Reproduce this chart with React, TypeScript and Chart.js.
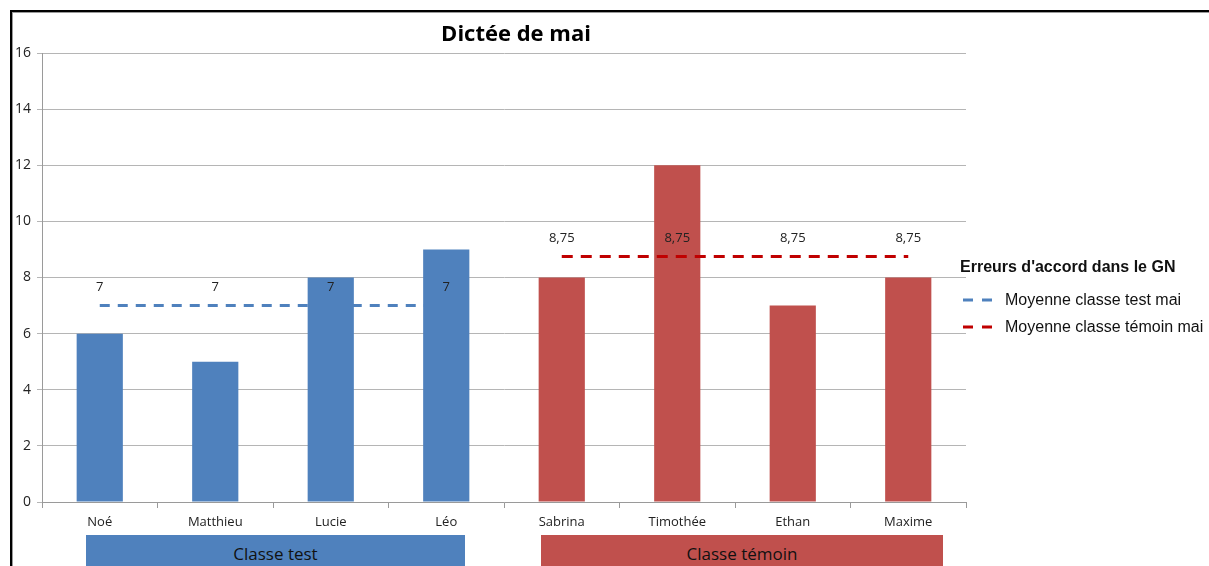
import React, { useEffect, useRef } from "react";
import { Chart, registerables } from "chart.js";

Chart.register(...registerables);

const students = ["Noé", "Matthieu", "Lucie", "Léo", "Sabrina", "Timothée", "Ethan", "Maxime"];
const errors = [6, 5, 8, 9, 8, 12, 7, 8];
const barColors = ["#4F81BD", "#4F81BD", "#4F81BD", "#4F81BD", "#C0504D", "#C0504D", "#C0504D", "#C0504D"];
const meanTest = [7, 7, 7, 7, null, null, null, null];
const meanTemoin = [null, null, null, null, 8.75, 8.75, 8.75, 8.75];
const legendTitle = "Erreurs d'accord dans le GN";
const legendLabels = ["Moyenne classe test mai", "Moyenne classe témoin mai"];
const groupLabels = ["Classe test", "Classe témoin"];
const chartTitle = "Dictée de mai";

const valueLabels = {
  id: "valueLabels",
  afterDatasetsDraw(chart: any) {
    const ctx = chart.ctx;
    ctx.save();
    ctx.font = "13px 'Open Sans'";
    ctx.fillStyle = "#222";
    ctx.textAlign = "center";
    ctx.textBaseline = "middle";
    chart.data.datasets.forEach((ds: any, i: number) => {
      if (ds.type !== "line") return;
      const meta = chart.getDatasetMeta(i);
      meta.data.forEach((pt: any, j: number) => {
        const v = ds.data[j];
        if (v === null || v === undefined) return;
        ctx.fillText(String(v).replace(".", ","), pt.x, pt.y - 18);
      });
    });
    ctx.restore();
  },
};

export default function App() {
  const ref = useRef<HTMLCanvasElement>(null);
  useEffect(() => {
    if (!ref.current) return;
    const chart = new Chart(ref.current, {
      type: "bar",
      data: {
        labels: students,
        datasets: [
          {
            type: "line",
            label: legendLabels[0],
            data: meanTest,
            borderColor: "#4F81BD",
            borderWidth: 3,
            borderDash: [10, 8],
            pointRadius: 0,
            fill: false,
            order: 3,
          } as any,
          {
            type: "bar",
            label: "Erreurs",
            data: errors,
            backgroundColor: barColors,
            barPercentage: 0.4,
            categoryPercentage: 1,
            order: 2,
          },
          {
            type: "line",
            label: legendLabels[1],
            data: meanTemoin,
            borderColor: "#C00000",
            borderWidth: 3,
            borderDash: [11, 8],
            pointRadius: 0,
            fill: false,
            order: 1,
          } as any,
        ],
      },
      options: {
        responsive: false,
        animation: false,
        devicePixelRatio: 1,
        layout: { padding: { top: 53, right: 243, left: 0, bottom: 0 } },
        plugins: {
          legend: { display: false },
          title: { display: false },
          tooltip: { enabled: false },
        },
        scales: {
          x: {
            offset: true,
            grid: {
              display: true,
              drawOnChartArea: false,
              drawTicks: true,
              tickLength: 6,
              color: "#9a9a9a",
              offset: true,
            },
            border: { display: true, color: "#9a9a9a", width: 1 },
            ticks: {
              font: { family: "'Open Sans'", size: 13 },
              color: "#222",
              padding: 6,
              maxRotation: 0,
            },
            afterFit(scale: any) {
              scale.height = 64;
            },
          },
          y: {
            min: 0,
            max: 16,
            ticks: {
              stepSize: 2,
              font: { family: "'Open Sans'", size: 14 },
              color: "#222",
              padding: 6,
            },
            grid: { color: "#b5b5b5", tickLength: 5 },
            border: { display: true, color: "#9a9a9a", width: 1 },
            afterFit(scale: any) {
              scale.width = 42;
            },
          },
        },
      },
      plugins: [valueLabels],
    });
    return () => chart.destroy();
  }, []);

  const legendText: React.CSSProperties = {
    position: "absolute",
    fontFamily: "'Liberation Sans', Arial, sans-serif",
    fontSize: 16,
    color: "#111",
    whiteSpace: "nowrap",
    lineHeight: "18px",
  };

  return (
    <div
      style={{
        position: "absolute",
        left: 0,
        top: 0,
        width: 1209,
        height: 566,
        overflow: "hidden",
        background: "#fff",
      }}
    >
      <div
        style={{
          position: "absolute",
          left: 10,
          top: 10,
          width: 1220,
          height: 600,
          borderLeft: "2px solid #000",
          borderTop: "2px solid #000",
          boxShadow: "inset 1px 1px 0 #9a9a9a",
        }}
      />
      <div
        style={{
          position: "absolute",
          left: 86,
          top: 535,
          width: 379,
          height: 40,
          background: "#4F81BD",
          color: "#111",
          fontFamily: "'Open Sans', sans-serif",
          fontSize: 17,
          textAlign: "center",
          lineHeight: "38px",
        }}
      >
        {groupLabels[0]}
      </div>
      <div
        style={{
          position: "absolute",
          left: 541,
          top: 535,
          width: 402,
          height: 40,
          background: "#C0504D",
          color: "#111",
          fontFamily: "'Open Sans', sans-serif",
          fontSize: 17,
          textAlign: "center",
          lineHeight: "38px",
        }}
      >
        {groupLabels[1]}
      </div>
      <canvas
        ref={ref}
        width={1209}
        height={566}
        style={{ position: "absolute", left: 0, top: 0, width: 1209, height: 566 }}
      />
      <div
        style={{
          position: "absolute",
          left: 316,
          width: 400,
          top: 16,
          textAlign: "center",
          fontFamily: "'Open Sans', sans-serif",
          fontWeight: 700,
          fontSize: 22,
          lineHeight: "32px",
          color: "#000",
        }}
      >
        {chartTitle}
      </div>
      <div style={{ ...legendText, left: 960, top: 258, fontWeight: 700 }}>{legendTitle}</div>
      <svg style={{ position: "absolute", left: 962, top: 295 }} width={34} height={10}>
        <line x1={1} y1={5} x2={33} y2={5} stroke="#4F81BD" strokeWidth={3} strokeDasharray="10 9" />
      </svg>
      <div style={{ ...legendText, left: 1005, top: 291 }}>{legendLabels[0]}</div>
      <svg style={{ position: "absolute", left: 962, top: 322 }} width={34} height={10}>
        <line x1={1} y1={5} x2={33} y2={5} stroke="#C00000" strokeWidth={3} strokeDasharray="10 9" />
      </svg>
      <div style={{ ...legendText, left: 1005, top: 318 }}>{legendLabels[1]}</div>
    </div>
  );
}
